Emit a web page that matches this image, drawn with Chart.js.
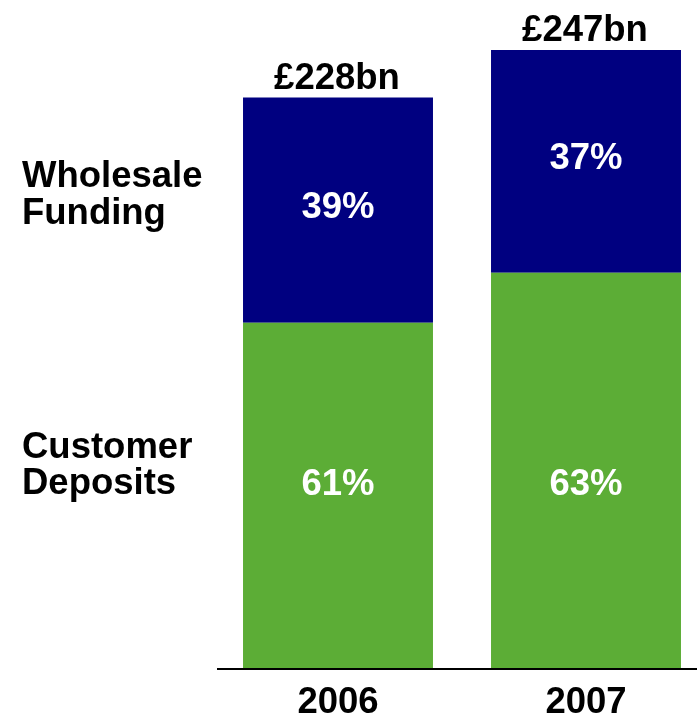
<!DOCTYPE html>
<html>
<head>
<meta charset="utf-8">
<script src="https://cdn.jsdelivr.net/npm/chart.js@4.4.1/dist/chart.umd.min.js"></script>
<style>
    html, body { margin: 0; padding: 0; overflow: hidden; background: #fff; }
    canvas { display: block; }
</style>
</head>
<body>
<canvas id="fundingChart" width="710" height="718"></canvas>
<script>
// values in £bn
const years = ["2006", "2007"];
const customerDeposits = [138, 158];
const wholesaleFunding = [90, 89];
const totalLabels = ["£228bn", "£247bn"];
const depositLabels = ["61%", "63%"];
const wholesaleLabels = ["39%", "37%"];

const FAMILY = "'Liberation Sans', Arial, sans-serif";
const FONT = "bold 36.5px " + FAMILY;

const labelsPlugin = {
    id: "labels",
    afterDatasetsDraw(chart) {
        const ctx = chart.ctx;
        ctx.save();
        ctx.font = FONT;
        ctx.textAlign = "center";
        ctx.fillStyle = "#ffffff";
        ctx.textBaseline = "middle";

        // deposit percentages sit on one common line
        const dep = chart.getDatasetMeta(0).data;
        const depY = dep.reduce((s, b) => s + (b.y + b.base) / 2, 0) / dep.length;
        dep.forEach((bar, i) => ctx.fillText(depositLabels[i], bar.x, depY + 2));

        // wholesale percentages in the middle of their segment
        chart.getDatasetMeta(1).data.forEach((bar, i) => {
            const mid = (bar.y + bar.base) / 2;
            ctx.fillText(wholesaleLabels[i], bar.x, mid - 2);
        });

        // totals above the bars
        ctx.fillStyle = "#000000";
        ctx.textBaseline = "alphabetic";
        chart.getDatasetMeta(1).data.forEach((bar, i) => {
            ctx.fillText(totalLabels[i], bar.x - 1, bar.y - 9);
        });

        // series names on the left
        ctx.textAlign = "left";
        ctx.fillText("Wholesale", 22, 187);
        ctx.fillText("Funding", 22, 224);
        ctx.fillText("Customer", 22, 458);
        ctx.fillText("Deposits", 22, 494);

        // base line
        ctx.strokeStyle = "#000000";
        ctx.lineWidth = 2;
        ctx.beginPath();
        ctx.moveTo(217, chart.chartArea.bottom + 1);
        ctx.lineTo(chart.width, chart.chartArea.bottom + 1);
        ctx.stroke();
        ctx.restore();
    }
};

new Chart(document.getElementById("fundingChart"), {
    type: "bar",
    data: {
        labels: years,
        datasets: [{
            label: "Customer Deposits",
            data: customerDeposits,
            backgroundColor: "#5cad36",
            barPercentage: 0.766,
            categoryPercentage: 1
        }, {
            label: "Wholesale Funding",
            data: wholesaleFunding,
            backgroundColor: "#000080",
            barPercentage: 0.766,
            categoryPercentage: 1
        }]
    },
    options: {
        responsive: false,
        animation: false,
        layout: { padding: { left: 214, right: 0, top: 0, bottom: 0 } },
        plugins: {
            legend: { display: false },
            tooltip: { enabled: false }
        },
        scales: {
            x: {
                stacked: true,
                grid: { display: false, drawTicks: false },
                border: { display: false },
                ticks: {
                    color: "#000000",
                    padding: 13,
                    font: { family: FAMILY, size: 36.5, weight: "bold" }
                },
                afterFit: s => { s.height = 50; }
            },
            y: {
                stacked: true,
                display: false,
                min: 0,
                max: 267
            }
        }
    },
    plugins: [labelsPlugin]
});
</script>
</body>
</html>
